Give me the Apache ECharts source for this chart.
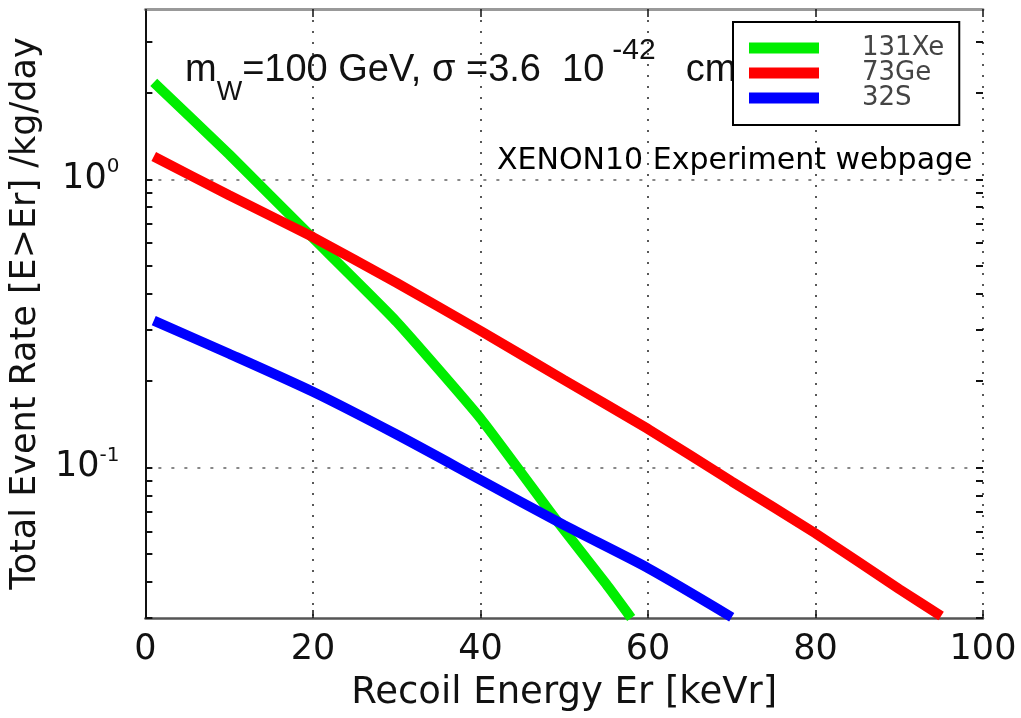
<!DOCTYPE html>
<html>
<head>
<meta charset="utf-8">
<script src="https://cdn.jsdelivr.net/npm/echarts@6/dist/echarts.min.js"></script>
<style>html,body{margin:0;padding:0;background:#fff}#c{width:1021px;height:718px}</style>
</head>
<body>
<div id="c"></div>
<script>
// Data
const xeEnergy = [1, 10, 20, 30, 40, 49, 55, 58];
const xeRate   = [2.17, 1.22, 0.625, 0.32, 0.148, 0.066, 0.0394, 0.0300];
const geEnergy = [1, 10, 20, 30, 40, 50, 60, 70, 80, 90, 95];
const geRate   = [1.20, 0.88, 0.63, 0.437, 0.298, 0.201, 0.136, 0.0894, 0.059, 0.0378, 0.0305];
const sEnergy  = [1, 10, 20, 30, 40, 50, 60, 70];
const sRate    = [0.323, 0.248, 0.183, 0.130, 0.0905, 0.063, 0.0447, 0.0302];
const seriesNames = ['131Xe', '73Ge', '32S'];
const xTickLabels = ['0', '20', '40', '60', '80', '100'];
const yMajorTicks = [0.1, 1];
const yMinorTicks = [0.03, 0.04, 0.05, 0.06, 0.07, 0.08, 0.09, 0.1, 0.2, 0.3, 0.4, 0.5, 0.6, 0.7, 0.8, 0.9, 1, 2, 3];

const pairs = (xs, ys) => xs.map((x, i) => [x, ys[i]]);
const FONT = 'DejaVu Sans';
const ARIAL = 'Liberation Sans';
const yMin = 0.03, yMax = 3.9;

const chart = echarts.init(document.getElementById('c'));

const tickAxis = (pos) => ({
  type: 'log', logBase: 10, min: yMin, max: yMax, position: pos, offset: -7,
  axisLine: { show: false },
  axisTick: { show: true, length: 7, customValues: yMinorTicks, lineStyle: { color: '#111', width: 2 } },
  axisLabel: { show: false },
  splitLine: { show: false }
});

const option = {
  backgroundColor: '#fff',
  animation: false,
  grid: { left: 144, right: 38, top: 9, bottom: 100 },
  legend: {
    data: seriesNames,
    orient: 'vertical',
    left: 733, top: 22,
    z: 10,
    backgroundColor: '#fff',
    borderColor: '#000',
    borderWidth: 2,
    padding: [13, 15, 14, 16],
    itemWidth: 70, itemHeight: 11, itemGap: -1,
    icon: 'rect',
    textStyle: { fontFamily: FONT, fontSize: 26, color: '#444', padding: [0, 0, 0, 38] }
  },
  xAxis: [{
    type: 'value', min: 0, max: 100, interval: 20, position: 'bottom',
    name: 'Recoil Energy Er [keVr]', nameLocation: 'middle', nameGap: 57,
    nameTextStyle: { fontFamily: FONT, fontSize: 37, color: '#111', lineHeight: 37 },
    axisLine: { lineStyle: { color: '#555', width: 2.5 } },
    axisTick: { inside: true, length: 8, lineStyle: { color: '#111', width: 1.5 } },
    axisLabel: { fontFamily: FONT, fontSize: 35, color: '#111', margin: 14, lineHeight: 35,
      formatter: (v) => xTickLabels[Math.round(v / 20)] },
    splitLine: { show: true, lineStyle: { color: '#222', width: 1.5, type: [2, 9] } }
  }, {
    type: 'value', min: 0, max: 100, interval: 20, position: 'top',
    axisLine: { lineStyle: { color: '#999', width: 3 } },
    axisTick: { inside: true, length: 8, lineStyle: { color: '#111', width: 1.5 } },
    axisLabel: { show: false }, splitLine: { show: false }
  }],
  yAxis: [{
    type: 'log', logBase: 10, min: yMin, max: yMax, position: 'left',
    name: 'Total Event Rate [E>Er] /kg/day', nameLocation: 'middle', nameGap: 91,
    nameTextStyle: { fontFamily: FONT, fontSize: 35, color: '#111', lineHeight: 36 },
    axisLine: { show: true, lineStyle: { color: '#111', width: 2 } },
    axisTick: { show: false, customValues: yMajorTicks },
    axisLabel: {
      customValues: yMajorTicks, margin: 26,
      formatter: (v) => '{b|10}{s|' + Math.round(Math.log10(v)) + '}',
      rich: {
        b: { fontFamily: FONT, fontSize: 35, color: '#111', lineHeight: 44 },
        s: { fontFamily: FONT, fontSize: 20, color: '#111', lineHeight: 22, verticalAlign: 'top' }
      }
    },
    splitLine: { show: true, lineStyle: { color: '#888', width: 2, type: [3, 10] } }
  }, {
    type: 'log', logBase: 10, min: yMin, max: yMax, position: 'right',
    axisLine: { show: true, lineStyle: { color: '#111', width: 2 } },
    axisTick: { show: false },
    axisLabel: { show: false }, splitLine: { show: false }
  }, tickAxis('left'), tickAxis('right')],
  series: [
    { name: seriesNames[0], type: 'line', data: pairs(xeEnergy, xeRate), showSymbol: false, smooth: 0.15,
      color: '#00ee00', lineStyle: { color: '#00ee00', width: 10 }, clip: true },
    { name: seriesNames[1], type: 'line', data: pairs(geEnergy, geRate), showSymbol: false, smooth: 0.15,
      color: '#ff0000', lineStyle: { color: '#ff0000', width: 10 }, clip: true },
    { name: seriesNames[2], type: 'line', data: pairs(sEnergy, sRate), showSymbol: false, smooth: 0.25,
      color: '#0000ff', lineStyle: { color: '#0000ff', width: 10 }, clip: true }
  ],
  graphic: [{
    type: 'text', left: 185, top: 36, z: 1,
    style: {
      text: '{b|m}{sub|W}{b|=100 GeV, \u03c3 =3.6  10}{g1| }{sup|-42}{g2| }{b|cm}{sup|2}',
      fill: '#111',
      rich: {
        b: { fontFamily: ARIAL, fontSize: 38, lineHeight: 70, fill: '#111' },
        sub: { fontFamily: ARIAL, fontSize: 27, lineHeight: 28, verticalAlign: 'bottom', fill: '#111' },
        sup: { fontFamily: ARIAL, fontSize: 30, lineHeight: 36, verticalAlign: 'top', fill: '#111' },
        g1: { fontFamily: ARIAL, fontSize: 10, width: 8, lineHeight: 10 },
        g2: { fontFamily: ARIAL, fontSize: 10, width: 30, lineHeight: 10 }
      }
    }
  }, {
    type: 'text', left: 497, top: 146, z: 1,
    style: {
      text: 'XENON10 Experiment webpage',
      fontFamily: '"Comic Sans MS", "DejaVu Sans"', fontSize: 30, fill: '#000'
    }
  }]
};
chart.setOption(option);
</script>
</body>
</html>
